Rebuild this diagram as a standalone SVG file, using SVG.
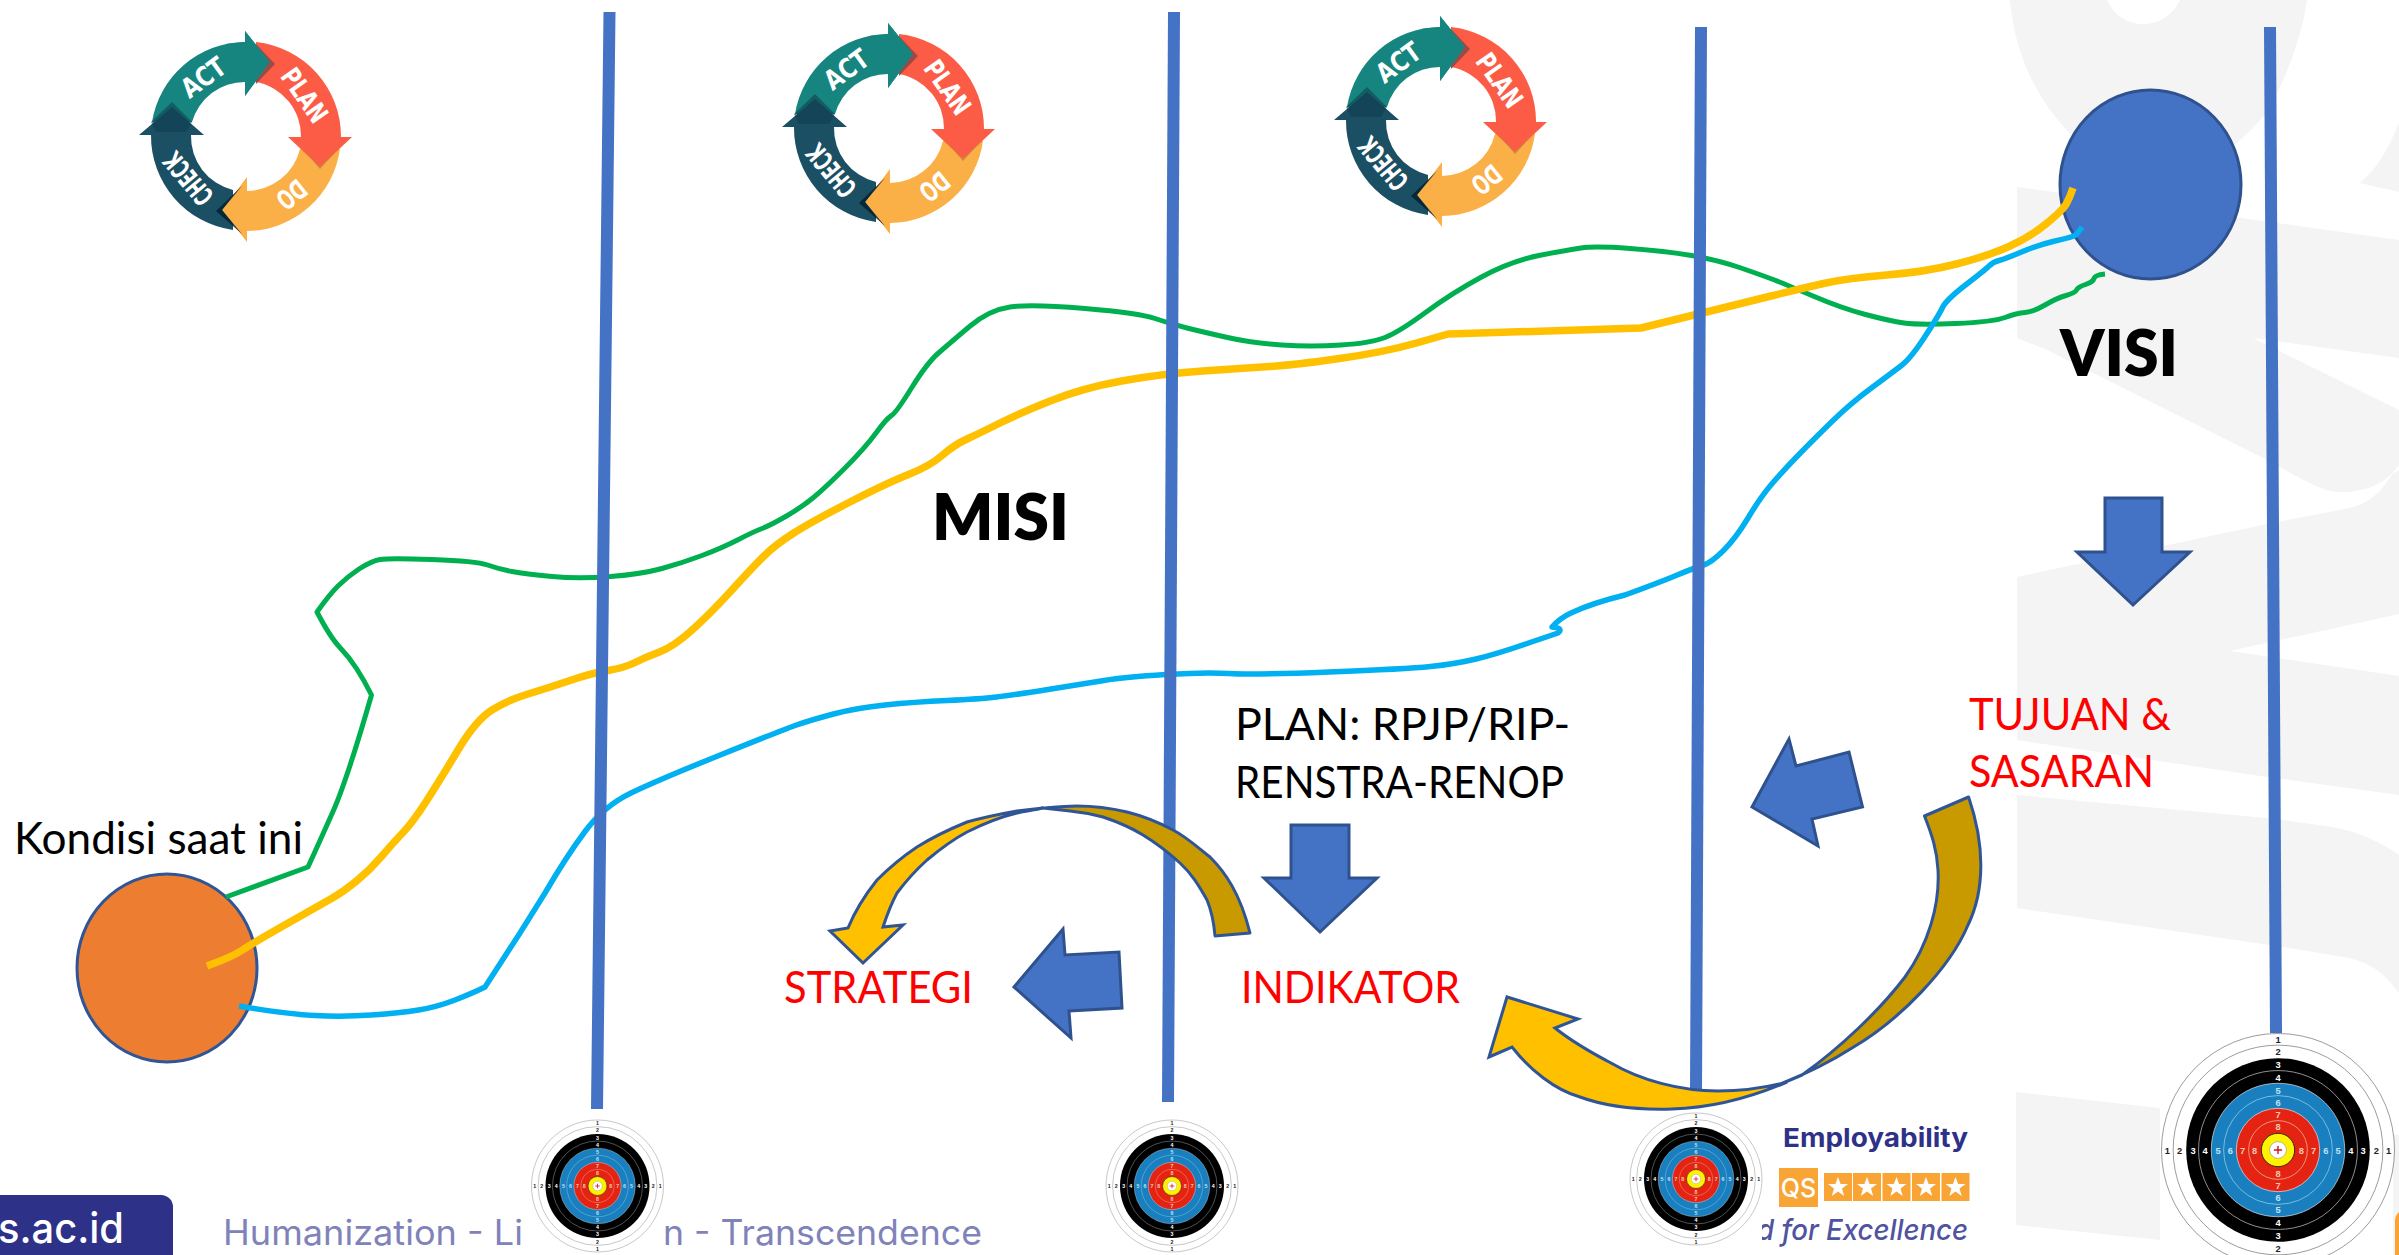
<svg xmlns="http://www.w3.org/2000/svg" width="2399" height="1255" viewBox="0 0 2399 1255">
<style>
.wm{fill:#f4f4f4}
.axis{stroke:#4472c4;stroke-width:12;fill:none}
.blk{fill:#4472c4;stroke:#2f528f;stroke-width:3;stroke-linejoin:miter}
.au{fill:#c99a00;stroke:#2f5597;stroke-width:3;stroke-linejoin:round}
.gold{fill:#ffc000;stroke:#2f5597;stroke-width:3;stroke-linejoin:miter}
.path{fill:none;stroke-linejoin:round;stroke-linecap:butt}
.g{stroke:#00b050;stroke-width:5}
.y{stroke:#ffc000;stroke-width:7.5}
.b{stroke:#00b0f0;stroke-width:5.5}
.t{font-family:Lato,"Open Sans",sans-serif;font-size:44px;fill:#000}
.r{fill:#ff0000}
.h{font-family:Lato,"Open Sans",sans-serif;font-weight:800;font-size:65px;fill:#000}
.foot{font-family:Inter,"Open Sans",sans-serif;font-size:35px;font-weight:400;fill:#8083b9}
.pd{font-family:"DejaVu Sans","Liberation Sans",sans-serif;font-weight:700;font-size:27px;fill:#fff;text-anchor:middle}
.n{font-family:"Liberation Sans",sans-serif;font-weight:700;font-size:8px;text-anchor:middle}
.nb{fill:#222}.nw{fill:#fff}.nl{fill:#bfe3f5}.nr{fill:#f6c9ae}
</style>
<defs>
<g id="pdca">
<path fill="#17857f" d="M-94,-14A95,95 0 0 1 -1,-94L-1,-105L24,-74L-1,-40L-1,-54A55,55 0 0 0 -54,-14Z"/>
<path fill="#1b4f63" d="M-13,94A95,95 0 0 1 -95,-1L-107,-1L-74,-29L-42,-1L-55,-1A55,55 0 0 0 -13,54Z"/>
<path fill="#0f3d4f" opacity=".55" d="M-95,-14L-74,-34L-54,-14L-60,-4L-90,-4Z"/>
<path fill="#fbaf47" d="M94,13A95,95 0 0 1 1,95L1,106L-24,74L1,41L1,55A55,55 0 0 0 54,13Z"/>
<path fill="#001f2e" opacity=".8" d="M-4,50L-30,75L-4,98L-24,74Z"/>
<path fill="#fc5c46" d="M10,-94A95,95 0 0 1 95,1L106,1L74,31L42,1L55,1A55,55 0 0 0 10,-54Z"/>
<path fill="#b8823a" opacity=".8" d="M55,11L74,33L94,11L74,31Z"/>
<path fill="#9c4a48" d="M10,-92L29,-72L10,-52Z"/>
<path fill="#17857f" d="M-1,-105L24,-74L-1,-40L-1,-54L-20,-54L-20,-92L-1,-94Z"/>
<text class="pd" transform="translate(-43,-59) rotate(-36)" y="10" textLength="48" lengthAdjust="spacingAndGlyphs">ACT</text>
<text class="pd" transform="translate(59,-41) rotate(55)" y="10" textLength="60" lengthAdjust="spacingAndGlyphs">PLAN</text>
<text class="pd" transform="translate(46,59) rotate(141)" y="10" textLength="30" lengthAdjust="spacingAndGlyphs">DO</text>
<text class="pd" transform="translate(-58,43) rotate(230)" y="10" textLength="60" lengthAdjust="spacingAndGlyphs">CHECK</text>
</g>
<g id="target">
<circle r="100" fill="#fff" stroke="#555" stroke-width=".5"/>
<circle r="90" fill="#fff" stroke="#555" stroke-width=".5"/>
<circle r="78.8" fill="#000"/>
<circle r="68.2" fill="#000" stroke="#ccc" stroke-width=".6"/>
<circle r="57.3" fill="#1a7fbf" stroke="#fff" stroke-width=".5"/>
<circle r="46.7" fill="#1a7fbf" stroke="#9fd6ee" stroke-width=".6"/>
<circle r="35.8" fill="#e42313" stroke="#fff" stroke-width=".5"/>
<circle r="25.2" fill="#e42313" stroke="#f4c6a8" stroke-width=".6"/>
<circle r="14.3" fill="#fff200" stroke="#111" stroke-width=".7"/>
<circle r="7.2" fill="#fff" stroke="#999" stroke-width=".6"/>
<path d="M-3.500,0H3.500M0,-3.500V3.500" stroke="#d01020" stroke-width="1.200"/>
<g class="n">
<g class="nb"><text y="-92">1</text><text y="-81.500">2</text><text y="98">1</text><text y="87.500">2</text><text x="-95" y="3">1</text><text x="-84.500" y="3">2</text><text x="95" y="3">1</text><text x="84.500" y="3">2</text></g>
<g class="nw"><text y="-70">3</text><text y="-59.500">4</text><text y="76">3</text><text y="65.500">4</text><text x="-73" y="3">3</text><text x="-62.500" y="3">4</text><text x="73" y="3">3</text><text x="62.500" y="3">4</text></g>
<g class="nl"><text y="-48.500">5</text><text y="-38">6</text><text y="54.500">5</text><text y="44">6</text><text x="-51.500" y="3">5</text><text x="-41" y="3">6</text><text x="51.500" y="3">5</text><text x="41" y="3">6</text></g>
<g class="nr"><text y="-27.500">7</text><text y="-17">8</text><text y="33.500">7</text><text y="23">8</text><text x="-30.500" y="3">7</text><text x="-20" y="3">8</text><text x="30.500" y="3">7</text><text x="20" y="3">8</text></g>
</g>
</g>
<g id="star"><rect x="-14" y="-14" width="28" height="28" fill="#f9a535"/><polygon fill="#fff" points="0,-10 2.600,-3 10,-3 4,1.600 6.200,9 0,4.600 -6.200,9 -4,1.600 -10,-3 -2.600,-3"/></g>
</defs>

<rect width="2399" height="1255" fill="#fff"/>

<g id="watermark">
<path class="wm" d="M2010,0C2018,90 2070,150 2150,190C2200,170 2245,145 2270,107C2290,70 2303,30 2307,0H2180C2172,16 2158,24 2143,24C2128,24 2114,16 2107,0Z"/>
<path class="wm" d="M2399,123C2388,150 2376,170 2360,183L2399,192Z"/>
<path class="wm" d="M2017,187L2399,240V358L2253,338L2399,410V465C2385,485 2365,492 2340,492C2325,492 2315,487 2267,460L2047,350L2017,338Z"/>
<path class="wm" d="M2017,577L2267,524L2350,508C2370,503 2383,490 2392,474L2399,470V614L2230,651L2399,676V795L2267,777L2017,740Z"/>
<path class="wm" d="M2017,795L2267,818L2333,827C2360,832 2382,843 2399,855V993C2385,975 2375,965 2350,958L2283,947L2017,908Z"/>
<path class="wm" d="M2016,1092L2399,1135V1255H2200L2160,1240L2016,1225Z"/>
</g>

<g id="footer">
<rect x="-20" y="1195" width="193" height="80" rx="12" fill="#2e3188"/>
<text x="-2" y="1243" font-family="Inter,'Open Sans',sans-serif" font-size="42" font-weight="500" fill="#fff" textLength="126" lengthAdjust="spacingAndGlyphs">s.ac.id</text>
<text class="foot" x="223" y="1245" textLength="300" lengthAdjust="spacingAndGlyphs">Humanization - Li</text>
<text class="foot" x="663" y="1245" textLength="319" lengthAdjust="spacingAndGlyphs">n - Transcendence</text>
<text x="1783" y="1147" font-family="Inter,'Open Sans',sans-serif" font-size="26" font-weight="700" fill="#2e3188" textLength="185" lengthAdjust="spacingAndGlyphs">Employability</text>
<rect x="1779" y="1168" width="39" height="39" fill="#f9a535"/>
<text x="1798.500" y="1197" text-anchor="middle" font-family="Inter,'Open Sans',sans-serif" font-size="25" font-weight="500" fill="#fff">QS</text>
<use href="#star" x="1838" y="1187"/><use href="#star" x="1867" y="1187"/><use href="#star" x="1896.500" y="1187"/><use href="#star" x="1926" y="1187"/><use href="#star" x="1955.500" y="1187"/>
<text x="1757" y="1240" font-family="Inter,'Open Sans',sans-serif" font-size="29" font-style="italic" font-weight="500" fill="#4f53a0" textLength="211" lengthAdjust="spacingAndGlyphs">d for Excellence</text>
<rect x="2395" y="1210" width="20" height="60" rx="10" fill="#f9a535"/>
</g>

<g id="node-kondisi-circle"><ellipse cx="167" cy="968" rx="90" ry="94" fill="#ed7d31" stroke="#2f5597" stroke-width="3"/></g>
<g id="node-visi-circle"><ellipse cx="2150.500" cy="184.500" rx="90.500" ry="94.500" fill="#4472c4" stroke="#2f528f" stroke-width="3"/></g>

<g id="connectors">
<path class="path g" d="M226,897L308,867Q319,843 333,811.500Q347,780 371.500,695Q364,680 356.500,668.500Q349,657 339.500,647Q330,637 317,612Q329,595 338,586Q347,577 359,569Q371.500,561 380,559.500Q389,558 432,559.500Q476,561 487.500,565Q499,569 512,571.500Q525,574 552,576.500Q579,579 610.500,576.500Q642,574 662,568.500Q682,563 702,555.500Q722,548 737.500,540Q753,532 762,528.500Q771,525 786.500,516Q802,507 813.500,497.500Q825,488 845,468Q865,448 876,433Q887,418 891.500,415.500Q896,413 911.500,388Q927,363 938.500,353Q950,343 969.500,326.500Q989,310 1010,307Q1031,304 1085,308.500Q1139,313 1155,318.500Q1171,324 1187,328Q1203,332 1227.500,337.500Q1252,343 1281.500,345Q1311,347 1341,345Q1371,343 1385,337.500Q1399,332 1425.500,312.500Q1452,293 1481.500,277Q1511,261 1539,255.500Q1567,250 1581,248Q1595,246 1630,248.500Q1665,251 1691.500,255.500Q1718,260 1741,268Q1764,276 1774.500,280Q1785,284 1813,296Q1841,308 1865.500,314.500Q1890,321 1904,323Q1918,325 1955.500,323.500Q1993,322 2005,317.500Q2017,313 2025,312.500Q2033,312 2045,305Q2057,298 2066,295.500Q2075,293 2076.500,290Q2078,287 2085.500,284.500Q2093,282 2094,278.500Q2095,275 2105,274"/>
<path class="path b" d="M239,1006Q287,1014 315,1015.500Q343,1017 371.500,1015Q400,1013 418.500,1010Q437,1007 455,1000Q473,993 485,987L520,933L545,893Q566,857 585,831.500Q604,806 631,793Q658,780 719,755.500Q780,731 795,725.500Q811,720 833.500,714Q856,708 885,705Q914,702 947,700.500Q980,699 996.500,697Q1013,695 1048,689.500Q1083,684 1104,680.500Q1125,677 1165.500,674.500Q1206,672 1229,673.500Q1252,675 1329,672Q1406,669 1430.500,666.500Q1455,664 1476,659Q1497,654 1528.500,643L1558,633Q1564,628 1552,627Q1560,618 1571,613Q1592,603 1625,595Q1658,583 1676,575.500Q1694,568 1702.500,565.500Q1711,563 1723.500,550.500Q1736,538 1748,518Q1760,498 1770.500,485.500Q1781,473 1797,456.500Q1813,440 1832,421.500Q1851,403 1872,387.500Q1893,372 1902,365Q1911,358 1925,336.500Q1939,315 1942.500,307.500Q1946,300 1965.500,285Q1985,270 1989,266Q1993,262 1999,260.500Q2005,259 2021.500,252Q2038,245 2053,241.500Q2068,238 2072.500,236.500Q2077,235 2082,227"/>
<path class="path y" d="M207,966Q232,957 242.500,950Q253,943 286.500,924Q320,905 331.500,898.500Q343,892 356.500,881Q370,870 381.500,856.500Q393,843 403,832.500Q413,822 426.500,801Q440,780 458,750Q476,720 492,710Q508,700 528,694Q548,688 570,680.500Q592,673 608,670.500Q624,668 635,662.500Q646,657 659.500,652Q673,647 691,631Q709,615 731,591Q753,567 764,556Q775,545 793,533.500Q811,522 849,502.500Q887,483 908.500,474.500Q930,466 942,455.500Q954,445 967,439Q980,433 1000,423Q1020,413 1051.500,400.500Q1083,388 1121.500,381Q1160,374 1202.500,371Q1245,368 1269.500,366.500Q1294,365 1339.500,358.500Q1385,352 1416.500,343L1448,334L1641,328Q1694,315 1718.500,309Q1743,303 1771,296Q1799,289 1823.500,283.500Q1848,278 1886.500,275Q1925,272 1956.500,264Q1988,256 2009,246.500Q2030,237 2046.500,223.500Q2063,210 2066.500,203.500Q2070,197 2073,188"/>
</g>

<g id="axes">
<line class="axis" x1="609.500" y1="12" x2="597" y2="1109"/>
<line class="axis" x1="1174" y1="12" x2="1168" y2="1102"/>
<line class="axis" x1="1701" y1="27" x2="1696" y2="1092"/>
<line class="axis" x1="2270" y1="27" x2="2276" y2="1033"/>
</g>

<g id="pdca-1"><use href="#pdca" x="246" y="136"/></g>
<g id="pdca-2"><use href="#pdca" x="889" y="128"/></g>
<g id="pdca-3"><use href="#pdca" x="1441" y="121"/></g>

<g id="target-1"><use href="#target" transform="translate(597.500,1186) scale(.66)"/></g>
<g id="target-2"><use href="#target" transform="translate(1172,1186) scale(.66)"/></g>
<g id="target-3"><rect x="1625" y="1110" width="137" height="145" fill="#fff"/><use href="#target" transform="translate(1696,1179) scale(.66)"/></g>
<g id="target-4"><rect x="2160" y="1033" width="233" height="222" fill="#fff"/><use href="#target" transform="translate(2278,1150) scale(1.165)"/></g>

<g id="node-kondisi"><text class="t" x="14" y="854" textLength="289" lengthAdjust="spacingAndGlyphs">Kondisi saat ini</text></g>
<g id="node-visi"><text class="h" x="2060" y="376" textLength="118" lengthAdjust="spacingAndGlyphs">VISI</text></g>
<g id="node-misi"><text class="h" x="932" y="540" textLength="137" lengthAdjust="spacingAndGlyphs">MISI</text></g>
<g id="node-plan">
<text class="t" x="1235" y="740" textLength="335" lengthAdjust="spacingAndGlyphs">PLAN: RPJP/RIP-</text>
<text class="t" x="1235" y="798" textLength="329" lengthAdjust="spacingAndGlyphs">RENSTRA-RENOP</text>
</g>
<g id="node-tujuan">
<text class="t r" x="1969" y="730" textLength="202" lengthAdjust="spacingAndGlyphs">TUJUAN &amp;</text>
<text class="t r" x="1969" y="787" textLength="185" lengthAdjust="spacingAndGlyphs">SASARAN</text>
</g>
<g id="node-indikator"><text class="t r" x="1241" y="1003" textLength="219" lengthAdjust="spacingAndGlyphs">INDIKATOR</text></g>
<g id="node-strategi"><text class="t r" x="784" y="1003" textLength="189" lengthAdjust="spacingAndGlyphs">STRATEGI</text></g>

<g id="block-arrows">
<polygon class="blk" points="2105,498 2162,498 2162,552 2190,552 2133,605 2077,552 2105,552"/>
<polygon class="blk" points="1291,825 1349,825 1349,878 1377,878 1320,932 1264,878 1291,878"/>
<polygon class="blk" points="1014,987 1063,929 1065,955 1119,952 1122,1008 1069,1011 1071,1038"/>
<polygon class="blk" points="1752,807 1789,739 1796,766 1849,752 1862.500,807 1812,819 1818,846"/>
</g>

<g id="curved-arrows">
<path class="au" d="M1968.600,797C1985,845 1985,890 1968,925C1950,968 1900,1020 1852,1048C1830,1062 1805,1074 1783,1083L1802,1075C1840,1048 1880,1010 1905,977C1928,945 1940,905 1938,870C1937,850 1932,835 1924.500,816Z"/>
<path class="gold" d="M1787,1082C1765,1088 1740,1091 1718,1091C1680,1091 1640,1080 1611,1063C1590,1052 1570,1040 1555,1028L1578,1019L1507,997L1489,1057L1512,1047C1530,1070 1555,1090 1580,1097C1610,1108 1640,1110 1672,1109C1710,1108 1750,1098 1787,1082Z"/>
<path class="au" d="M1250,933C1240,893 1225,872 1210,857C1195,845 1185,836 1173,830C1158,822 1143,816 1127,812C1110,808 1095,806 1077,806C1065,806 1055,807 1043,808L1070,811C1080,812 1092,814 1103,817C1118,822 1130,827 1143,835C1156,843 1168,852 1180,863C1193,875 1200,888 1207,900C1212,912 1214,924 1215,936Z"/>
<path class="gold" d="M1043,808C1034,809 1025,810 1017,811C1000,814 985,817 967,822C950,829 933,837 917,847C902,857 889,868 877,880C865,895 855,911 848,928L830,931L863,963L903,925L883,927C887,915 891,904 897,893C906,881 916,870 927,860C939,850 952,840 967,832C983,824 1000,817 1017,813C1026,811 1034,810 1043,808Z"/>
</g>
</svg>
